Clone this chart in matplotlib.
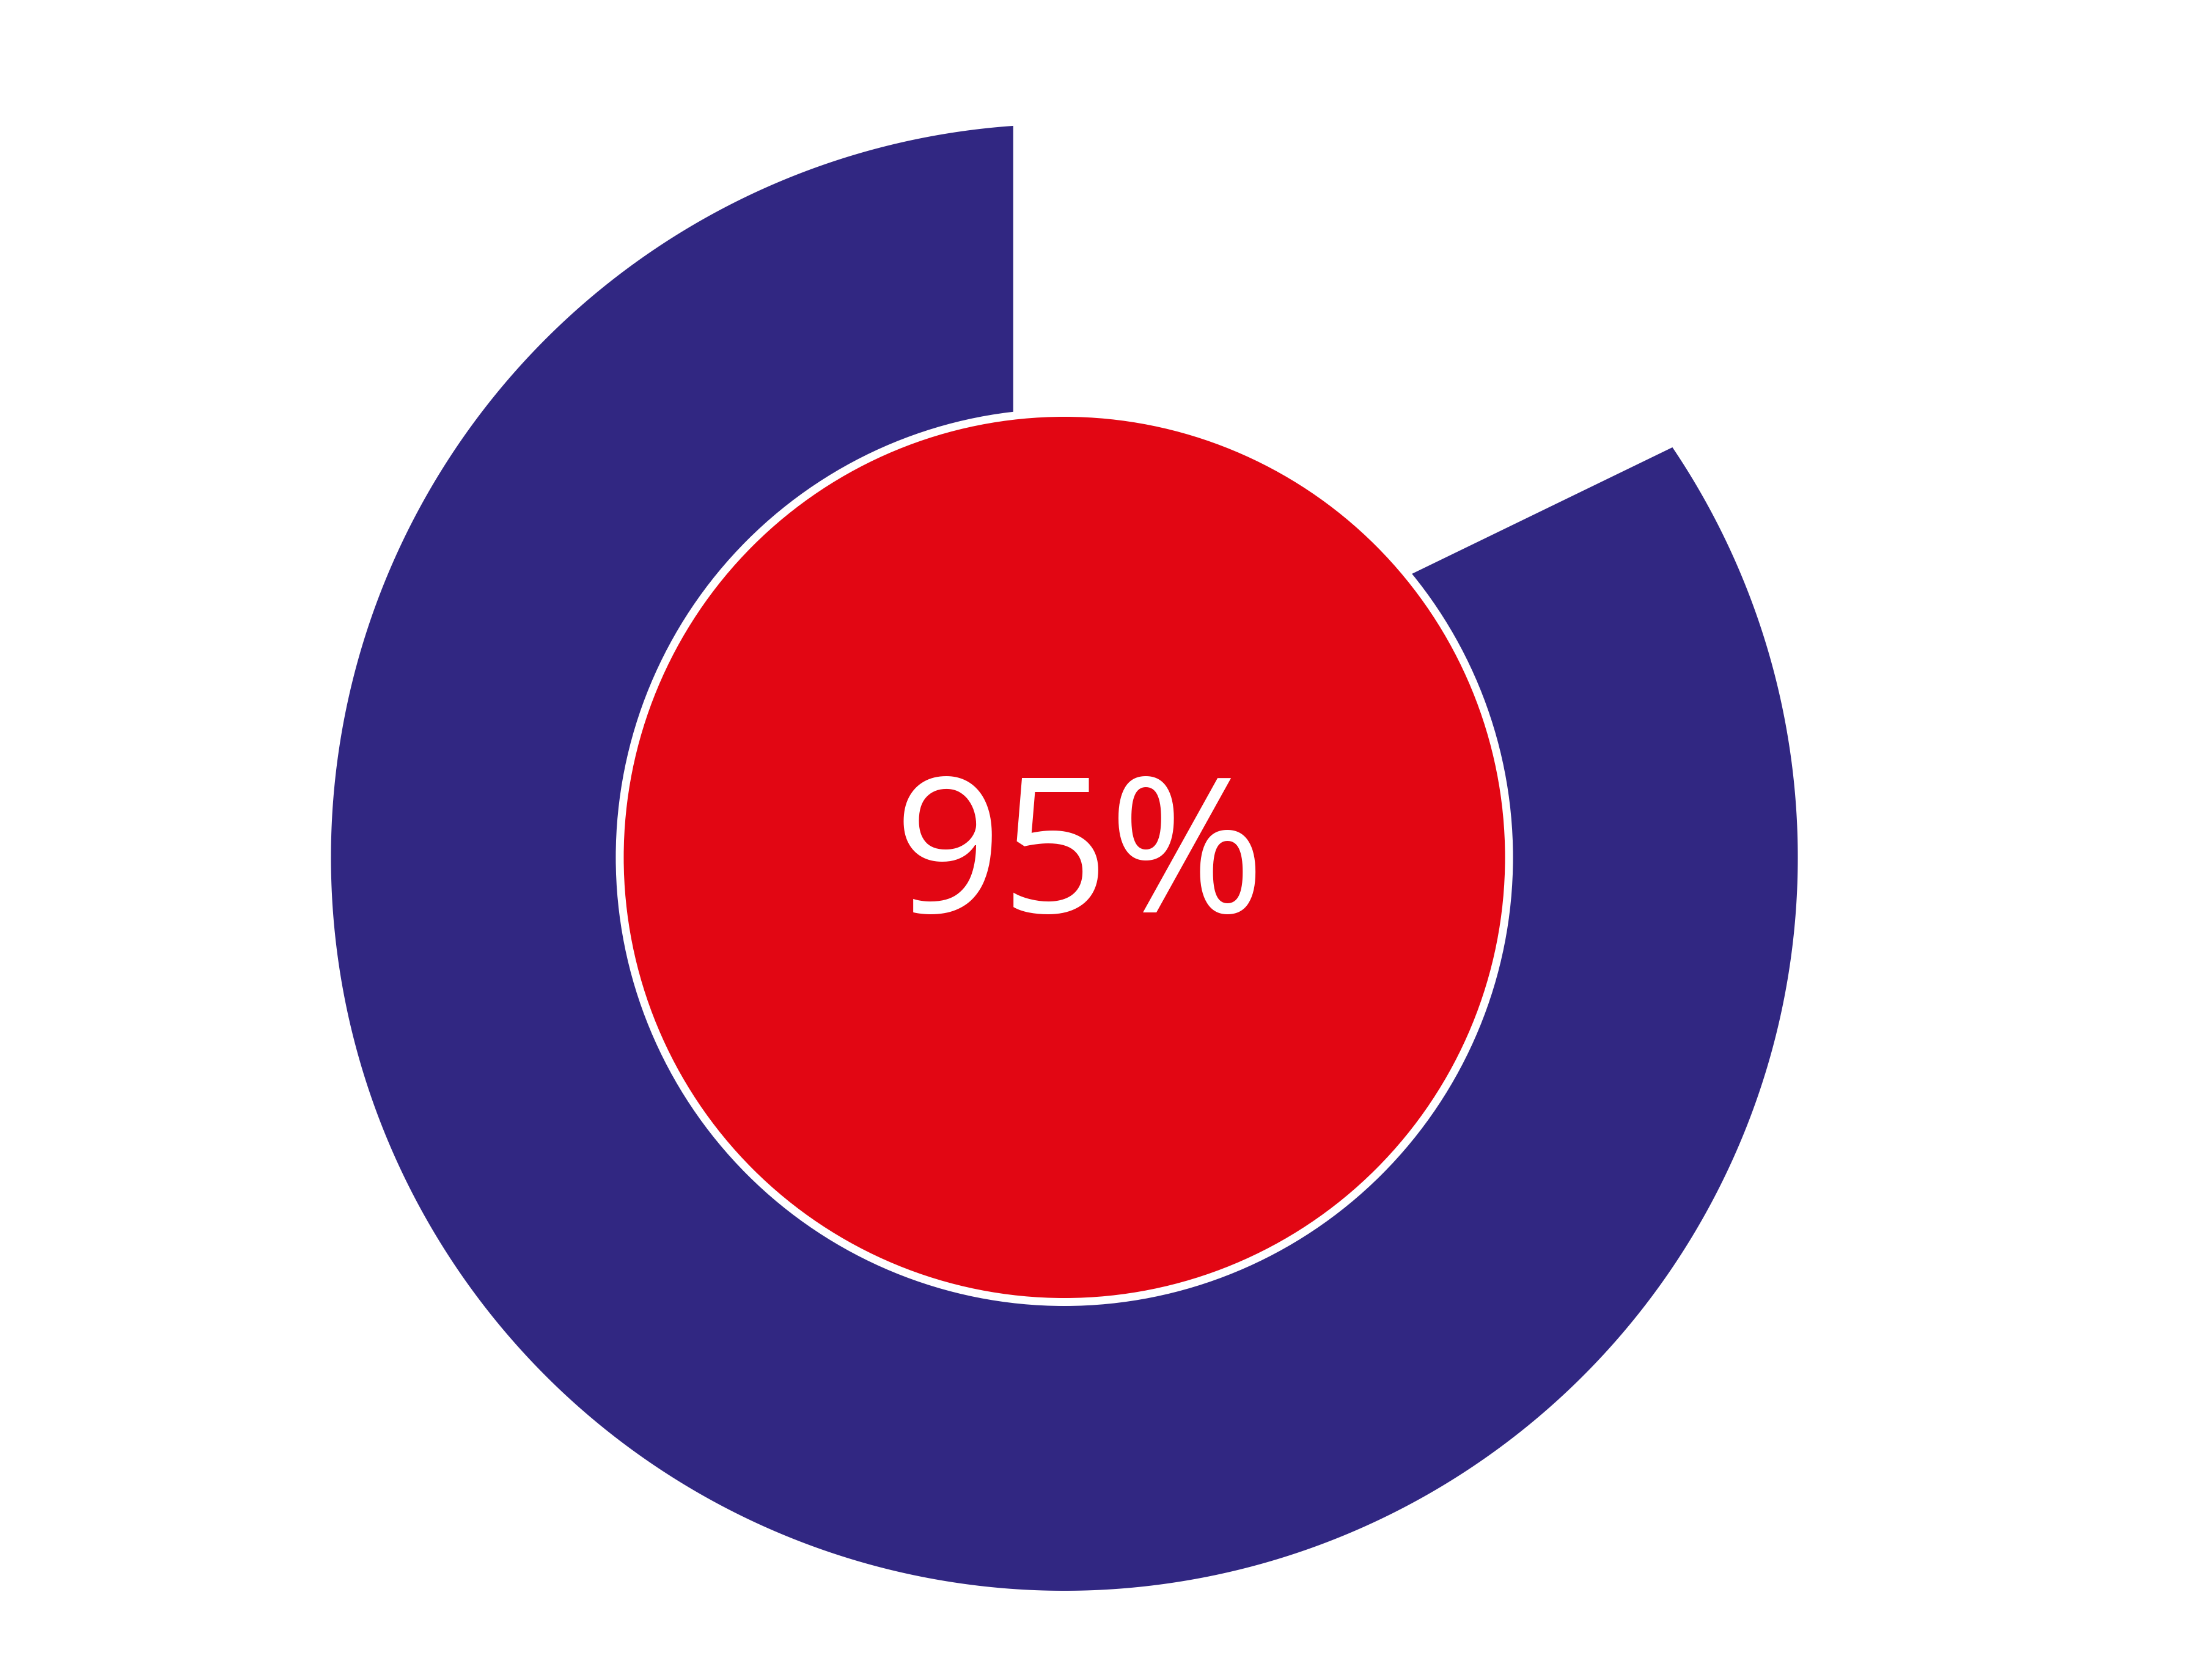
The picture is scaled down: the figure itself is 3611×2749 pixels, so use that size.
import matplotlib.pyplot as plt
import numpy as np
from matplotlib.patches import Circle, Polygon

# 数据
percent_value = 95
label_text = f"{percent_value}%"
gap_angles_deg = [34, 94]          # 外环缺口：从 34° 到 94°（逆时针）

# 样式
navy = '#312782'
red = '#E20613'
W, H = 3612, 2749
cx, cy = 1741.5, 1403             # 圆心（像素坐标）
r_outer = 1200
r_inner = 721
ring_gap = 13

fig = plt.figure(figsize=(W / 100, H / 100), dpi=100)
ax = fig.add_axes([0, 0, 1, 1])
ax.set_xlim(0, W)
ax.set_ylim(H, 0)
ax.set_aspect('equal')
ax.axis('off')

# 外环（深蓝）：从缺口结束角逆时针画到缺口开始角
a0 = np.deg2rad(gap_angles_deg[1])
a1 = np.deg2rad(gap_angles_deg[0] + 360)
t = np.linspace(a0, a1, 600)
arc_x = cx + r_outer * np.cos(t)
arc_y = cy - r_outer * np.sin(t)

# 两条直边交于内部一点（被红色圆遮住）
x_top = arc_x[0]
p_end = np.array([arc_x[-1], arc_y[-1]])
p_in = np.array([2308, 940])
slope = (p_in[1] - p_end[1]) / (p_in[0] - p_end[0])
apex = (x_top, p_in[1] + (x_top - p_in[0]) * slope)

pts = np.vstack([[apex], np.column_stack([arc_x, arc_y]), [apex]])
ax.add_patch(Polygon(pts, closed=True, facecolor=navy, edgecolor='none'))

# 内圆：白色描边 + 红色填充
ax.add_patch(Circle((cx, cy), r_inner + ring_gap, facecolor='white', edgecolor='none'))
ax.add_patch(Circle((cx, cy), r_inner, facecolor=red, edgecolor='none'))

ax.text(1766, 1493, label_text, color='white', ha='center', va='baseline',
        fontsize=222, family='Open Sans')

fig.savefig('out.png', dpi=100, facecolor='white')
